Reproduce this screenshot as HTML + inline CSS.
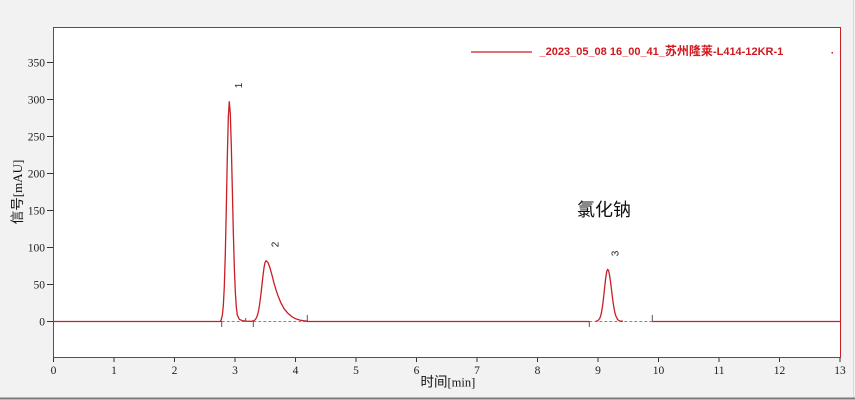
<!DOCTYPE html>
<html><head><meta charset="utf-8"><style>
html,body{margin:0;padding:0;background:#f2f2f2;}
svg{display:block;}
.tk{font-family:"Liberation Serif","Noto Serif CJK SC",serif;font-size:11.5px;fill:#222;}
</style></head><body>
<svg width="855" height="400" viewBox="0 0 855 400" xmlns="http://www.w3.org/2000/svg">
<rect x="0" y="0" width="855" height="400" fill="#f2f2f2"/>
<line x1="853.5" y1="0" x2="853.5" y2="398" stroke="#d8d8d8" stroke-width="1"/>
<line x1="0" y1="398.5" x2="855" y2="398.5" stroke="#7a7a7a" stroke-width="2"/>
<rect x="53.5" y="27.5" width="787" height="330" fill="#ffffff" stroke="#c81e24" stroke-width="1"/>

<!-- y ticks -->
<g stroke="#333" stroke-width="1">
<line x1="47" y1="321.5" x2="53" y2="321.5"/>
<line x1="47" y1="284.5" x2="53" y2="284.5"/>
<line x1="47" y1="247.5" x2="53" y2="247.5"/>
<line x1="47" y1="210.5" x2="53" y2="210.5"/>
<line x1="47" y1="173.5" x2="53" y2="173.5"/>
<line x1="47" y1="136.5" x2="53" y2="136.5"/>
<line x1="47" y1="99.5" x2="53" y2="99.5"/>
<line x1="47" y1="62.5" x2="53" y2="62.5"/>
</g>
<g class="tk" text-anchor="end">
<text x="45" y="325.5">0</text>
<text x="45" y="288.5">50</text>
<text x="45" y="251.5">100</text>
<text x="45" y="214.5">150</text>
<text x="45" y="177.5">200</text>
<text x="45" y="140.5">250</text>
<text x="45" y="103.5">300</text>
<text x="45" y="66.5">350</text>
</g>

<!-- x ticks -->
<g stroke="#333" stroke-width="1">
<line x1="53.5" y1="358" x2="53.5" y2="362"/>
<line x1="114" y1="358" x2="114" y2="362"/>
<line x1="174.5" y1="358" x2="174.5" y2="362"/>
<line x1="235" y1="358" x2="235" y2="362"/>
<line x1="295.5" y1="358" x2="295.5" y2="362"/>
<line x1="356" y1="358" x2="356" y2="362"/>
<line x1="416.5" y1="358" x2="416.5" y2="362"/>
<line x1="477" y1="358" x2="477" y2="362"/>
<line x1="537.5" y1="358" x2="537.5" y2="362"/>
<line x1="598" y1="358" x2="598" y2="362"/>
<line x1="658.5" y1="358" x2="658.5" y2="362"/>
<line x1="719" y1="358" x2="719" y2="362"/>
<line x1="779.5" y1="358" x2="779.5" y2="362"/>
<line x1="840" y1="358" x2="840" y2="362"/>
</g>
<g class="tk" text-anchor="middle">
<text x="53.5" y="374">0</text>
<text x="114" y="374">1</text>
<text x="174.5" y="374">2</text>
<text x="235" y="374">3</text>
<text x="295.5" y="374">4</text>
<text x="356" y="374">5</text>
<text x="416.5" y="374">6</text>
<text x="477" y="374">7</text>
<text x="537.5" y="374">8</text>
<text x="598" y="374">9</text>
<text x="658.5" y="374">10</text>
<text x="719" y="374">11</text>
<text x="779.5" y="374">12</text>
<text x="840" y="374">13</text>
</g>

<!-- axis titles -->
<text x="420.5" y="386.5" font-family="'Liberation Sans','Noto Sans CJK SC',sans-serif" font-size="13.5" fill="#111">时间<tspan font-family="'Liberation Serif',serif" font-size="12.5">[min]</tspan></text>
<text transform="translate(22,192) rotate(-90)" text-anchor="middle" font-family="'Liberation Sans','Noto Sans CJK SC',sans-serif" font-size="13.5" fill="#111">信号<tspan font-family="'Liberation Serif',serif" font-size="13">[mAU]</tspan></text>

<!-- baseline segments -->
<g stroke="#c81e24" stroke-width="1.2" fill="none">
<line x1="53.5" y1="321.5" x2="221.7" y2="321.5"/>
<line x1="307.3" y1="321.5" x2="589.3" y2="321.5"/>
<line x1="652.3" y1="321.5" x2="840.5" y2="321.5"/>
</g>
<g stroke="#888" stroke-width="1" stroke-dasharray="3,2" fill="none">
<line x1="221.7" y1="321.5" x2="246" y2="321.5"/>
<line x1="253.3" y1="321.5" x2="307.3" y2="321.5"/>
<line x1="589.3" y1="321.5" x2="652.3" y2="321.5"/>
</g>
<g stroke="#555" stroke-width="1">
<line x1="221.7" y1="321" x2="221.7" y2="327"/>
<line x1="245.7" y1="318" x2="245.7" y2="321.5"/>
<line x1="253.3" y1="321" x2="253.3" y2="327"/>
<line x1="307.3" y1="315" x2="307.3" y2="321.5"/>
<line x1="589.3" y1="321" x2="589.3" y2="327"/>
<line x1="652.3" y1="315" x2="652.3" y2="321.5"/>
</g>

<!-- peaks -->
<path fill="none" stroke="#c81e24" stroke-width="1.3" stroke-linejoin="round" d="M220.5,321.3 L221.3,319.4 L222.3,315.4 L223.3,306 L224.3,286.7 L225.3,254.1 L226.3,208.4 L227.3,157.9 L228.3,117.3 L229.3,101.7 L230.3,113.5 L231.3,145.6 L232.3,188 L233.3,231.3 L234.3,266.6 L235.3,291.7 L236.3,306.8 L237.3,315 L239.3,319.3 L242,320.6 L246,321.2 L252,321.3 L254,320.6 L255,319.9 L256,318.6 L257,316.5 L258,313.1 L259,308.2 L260,301.6 L261,293.5 L262,284.5 L263,275.5 L264,267.8 L265,262.6 L266,260.7 L268,262.5 L270,268 L272,275.2 L274,283.1 L276,289.8 L278,295.8 L281,303.1 L284,308.6 L288,313.4 L292,316.8 L296,318.9 L300,320.1 L304,320.8 L308,321.3"/>
<path fill="none" stroke="#c81e24" stroke-width="1.3" stroke-linejoin="round" d="M595.7,321.3 L597.7,320.8 L599.7,318.5 L600.7,315.8 L601.7,311.4 L602.7,304.8 L603.7,296.3 L604.7,286.9 L605.7,278 L606.7,271.6 L607.7,269.3 L608.7,271.1 L609.7,276 L610.7,283.2 L611.7,291.4 L612.7,299.4 L613.7,306.3 L614.7,311.8 L615.7,315.6 L617.7,319.7 L619.7,321 L623,321.3"/>

<!-- peak labels -->
<g font-family="'Liberation Sans',sans-serif" font-size="10" fill="#222" text-anchor="middle">
<text transform="translate(242,85.5) rotate(-90)">1</text>
<text transform="translate(278.5,244.5) rotate(-90)">2</text>
<text transform="translate(618.5,253.5) rotate(-90)">3</text>
</g>

<text x="577" y="216" font-family="'Noto Sans CJK SC','WenQuanYi Zen Hei',sans-serif" font-size="18" fill="#111">氯化钠</text>

<!-- legend -->
<line x1="471" y1="52" x2="532" y2="52" stroke="#c81e24" stroke-width="1.2"/>
<text x="539.5" y="55" font-family="'Liberation Sans','Noto Sans CJK SC',sans-serif" font-size="11" font-weight="bold" fill="#d0181e">_2023_05_08 16_00_41_<tspan font-size="12">苏州隆莱</tspan>-L414-12KR-1</text>
<rect x="831.5" y="52" width="1.5" height="1.5" fill="#c81e24"/>
</svg>
</body></html>
